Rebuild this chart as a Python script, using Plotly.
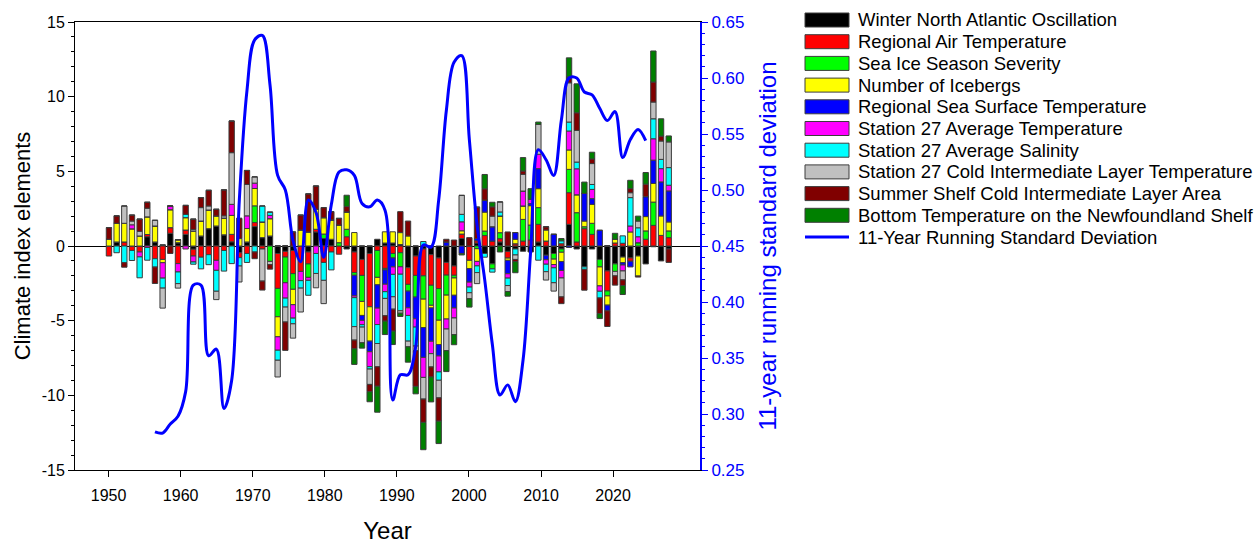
import plotly.graph_objects as go

years = list(range(1950, 2024))

nao = [0, 0.27, 0, 0, 0, 0.62, 0.27, 0.05, 0.85, 0.22,
       0.78, -0.22, 0.67, 1.16, 1.34, 0.75, 0.28, -0.45, 0.27, 1.3,
       0.56, 0.67, -0.5, -0.36, -0.3, 0, -0.4, 0.94, 0.5, 0.45,
       0, -0.2, -0.4, -0.9, -0.5, 0.45, 0.2, 0.2, 0.1, -1.45,
       -0.67, -0.2, -0.58, -0.8, -1.1, -1.34, 0.5, 0, 0.2, -0.5,
       -1.2, 0.27, -0.36, -0.2, -0.35, -0.4, 0.27, -0.62, -0.5, -0.2,
       1.45, -0.2, -1.4, -0.2, -0.9, -1.67, -1.2, -0.74, -0.8, -0.67,
       -1.2, -0.05, -1.0, -0.2]
air_temp = [-0.67, 0, 0.27, -0.3, -0.4, 0.15, -0.85, -0.9, 0.38, -1.18,
            0.29, -0.45, -0.75, -0.58, -0.96, -0.3, 0.5, -0.33, -0.5, 0.27,
            -0.2, 0, -2.34, -0.38, -1.55, -1.7, -0.8, 0.18, -1.1, -0.4,
            -0.55, 0.62, -1.38, -1.07, -3.57, -0.3, -1.5, -0.5, -0.45, -1.12,
            -1.3, -1.8, -2.05, -2.05, -0.85, -0.62, 0.3, -0.96, 0.15, 0.7,
            0.33, 0.22, -0.45, 0.15, 0.33, 0.4, 1.18, 0.33, 0, 0.15,
            2.12, 0.27, 1.16, 0.78, 0, -1.34, 0.2, 0.18, -0.22, 0,
            0.45, 1.38, 0.71, 0.56]
sea_ice = [0, 0, 0, 0, 0, 0, 0, 0, 0, 0,
           0, 0, 0, 0, 0, 0, 0, 0, 0, 1.12,
           0, -1.03, -1.9, -1.72, -1.05, 0, -0.9, 0, 0.3, 0,
           0.22, 0.5, -0.18, -1.74, 0, -1.8, -0.1, -0.3, -0.94, -0.45,
           -1.45, -1.56, -1.34, -2.12, -1.34, -0.18, 0, 0, -0.18, 0.3,
           -0.33, 0.4, 0, 0, 1.45, 1.0, 1.12, 0, -0.38, -0.22,
           1.56, 1.96, 0.13, 0.74, -0.5, -0.33, -0.5, 0, 0, 0.22,
           0.56, 1.56, 0, 0.45]
icebergs = [0.45, 1.25, 1.25, 1.15, 0.67, 1.18, 1.07, -0.22, 1.2, 0.2,
            0.83, 1.0, 1.0, 1.25, 0.67, 1.12, 1.27, 0.5, 0.9, 1.16,
            1.05, 1.16, -1.34, 0, -1.03, 1.07, 0.94, 1.34, 1.1, 1.3,
            1.18, 1.16, 0.9, -0.94, -2.3, -0.5, 0.75, 0.75, 0.8, 0.67,
            0, -1.9, -0.18, -1.63, -1.6, -1.16, 0.22, -0.56, -0.85, 1.27,
            0, 1.12, -0.15, 0.3, 0.9, 1.3, 1.27, 0.74, -0.36, -0.62,
            1.3, 1.2, 0.38, 1.27, -1.27, -0.62, 0.25, -0.38, 0.94, -1.34,
            0.96, 1.25, 1.3, 0.6]
sst = [0, 0, 0, 0, 0, 0, 0, 0, 0, 0,
       0, 0, 0, 0, 0, 0, 0, 0, 0, 0,
       0, 0, 0, 0, 0, 0, 0, 0, 0, 0,
       0, 0, -1.38, -0.33, -0.71, -1.56, -0.96, -0.6, 0, -1.12,
       -1.45, -2.0, -2.23, -0.76, 0.27, -0.85, -0.5, -0.9, 0.15, 0.8,
       0.96, 0, -0.9, 0.45, 0, 0.14, 1.34, -0.3, 0.78, -0.6,
       -0.1, 0, 1.85, 0.38, 1.05, -0.38, 0, -0.15, -0.38, 0,
       1.34, 1.56, 2.28, 2.08]
s27_temp = [0, 0, 0, 0.27, -0.33, -0.1, 0, -1.03, 0.25, -0.56,
            -0.2, -0.4, 0, 0, -0.67, 0, 0.74, 0, 0.85, 0.36,
            0, 0.22, -0.9, -1.03, -0.9, -0.62, -0.2, -0.5, 0, 0,
            0, 0, -0.12, -0.29, -1.0, -1.1, -0.5, -0.5, -0.5, -0.51,
            -0.56, -1.34, -0.83, -1.07, -0.67, -0.67, 0.6, -0.33, -0.3, 0,
            0, 0, -0.29, 0, 1.0, 0.3, 0.96, -0.3, -0.22, -0.5,
            1.27, 1.74, 0, 0.62, -0.36, 0, 0, -0.4, 0.4, 0.4,
            0, 1.43, 0.89, 0.38]
s27_sal = [0, -0.45, -1.12, -0.67, -1.4, -0.85, -0.56, -0.67, 0, -0.78,
           0.22, -0.15, -0.78, -0.67, -1.4, -1.38, -1.18, -0.56, -0.6, -0.4,
           1.07, 0.22, -0.67, -0.6, -0.38, -0.5, -1.0, -1.34, -1.2, -1.2,
           0, 0, -1.94, -0.16, -0.16, -1.27, -0.45, -1.5, -2.45, -1.72,
           -1.27, 0.3, 0, -0.56, 0, 0, 0.5, -0.38, -0.45, -0.25,
           -0.22, 0.27, -0.5, -0.4, 0, 0, -0.95, -0.5, -1.0, 0.2,
           0.6, 0.45, -0.16, 0.33, -0.45, 0, 0, 0.5, 1.9, 0.6,
           0, 1.34, 0.62, 1.18]
cil_temp = [0, 0, 1.16, 0.25, 0.3, 0.58, 0.38, -1.34, 0, -0.3,
            0, 0.1, 0.9, 0.27, -0.56, 0.15, 3.46, -1.07, 2.1, 0.42,
            -2.15, -0.22, -1.12, -1.0, -0.96, -1.6, 0, -0.96, -1.56, 0,
            0, 0, -0.9, -1.05, -1.03, -1.56, -1.16, -0.83, -0.16, -0.38,
            -0.3, -1.45, -0.89, -1.18, -1.45, -1.12, 1.27, -0.4, -0.74, 0,
            0.71, 0.67, -0.4, -0.3, 1.12, 0, 2.0, -0.56, -0.56, -1.27,
            2.63, 2.12, 0, 1.4, 0, 0, -0.3, -0.6, 0.33, 0.45,
            0, 1.12, 1.23, 1.72]
cil_area = [0.78, 0.5, -0.3, 0.4, 0.83, 0.4, -1.1, 0, -0.5, 0,
            0.6, 0.7, 0.67, 1.05, 0.45, 1.74, 2.12, 1.35, 0.94, -0.45,
            -0.6, -0.3, 0, -1.9, 0.94, 1.0, 2.55, 1.56, 0.67, 0.55,
            0.45, 0.36, -0.58, 0, -0.49, -1.3, -0.36, -1.47, 1.4, 1.0,
            -2.4, -1.56, -0.67, -1.56, 0.18, 0.4, 0, 0.56, 2.1, 0.76,
            0.62, 0, 0.94, -0.15, 0.22, 0, 0, 0.22, 0, -0.45,
            0.4, 1.18, -1.4, 0.31, -1.05, -1.05, -0.62, -0.38, 0.27, -0.07,
            0.83, 1.34, 0.33, -0.9]
bottom_temp = [0, 0, 0, 0, 0, 0, 0, 0, 0, 0,
               0, 0, 0, 0, 0, 0, 0, 0, 0, 0,
               0, 0, 0, 0, 0, 0, 0, 0, 0, 0,
               0, 0.76, -1.05, -0.36, -0.67, -1.74, -0.9, -0.9, -0.22, -1.03,
               -0.5, -1.83, -1.67, -1.5, -1.4, -0.67, -0.1, -0.56, 0, 0.96,
               0.31, -0.4, -0.31, -0.74, 0.9, 0.7, 0.16, 0, 0, 0.15,
               1.27, 1.94, 0.76, 0.45, -0.33, 0, 0.4, -0.6, 0.56, 0.33,
               0.78, 2.08, 1.16, 0.4]

sd_years = list(range(1956, 2021))
running_sd = [0.284, 0.283, 0.291, 0.298, 0.32, 0.415, 0.415, 0.352, 0.358, 0.305,
              0.33, 0.491, 0.589, 0.634, 0.638, 0.594, 0.513, 0.5, 0.455, 0.436,
              0.491, 0.48, 0.44, 0.487, 0.516, 0.518, 0.513, 0.488, 0.485, 0.491,
              0.482, 0.3125, 0.335, 0.335, 0.36, 0.451, 0.449, 0.491, 0.571, 0.614,
              0.62, 0.545, 0.469, 0.42, 0.362, 0.317, 0.326, 0.311, 0.348, 0.446,
              0.536, 0.527, 0.513, 0.5625, 0.6, 0.6, 0.5875, 0.585, 0.573, 0.562,
              0.57, 0.529, 0.545, 0.554, 0.544]

x_tick_labels = ["1950", "1960", "1970", "1980", "1990", "2000", "2010", "2020"]
left_tick_labels = ["-15", "-10", "-5", "0", "5", "10", "15"]

series_names = ["Winter North Atlantic Oscillation", "Regional Air Temperature",
                "Sea Ice Season Severity", "Number of Icebergs",
                "Regional Sea Surface Temperature", "Station 27 Average Temperature",
                "Station 27 Average Salinity", "Station 27 Cold Intermediate Layer Temperature",
                "Summer Shelf Cold Intermediate Layer Area", "Bottom Temperature on the Newfoundland Shelf"]
line_name = "11-Year Running Standard Deviation"
series_values = [nao, air_temp, sea_ice, icebergs, sst, s27_temp, s27_sal, cil_temp, cil_area, bottom_temp]
series_colors = ["#000000", "#FF0000", "#00FF00", "#FFFF00", "#0000FF",
                 "#FF00FF", "#00FFFF", "#C0C0C0", "#800000", "#008000"]
line_color = "#0000FF"
outline = "#3c3c3c"

FONT = "Arial, Liberation Sans, sans-serif"
W, H = 1259, 544
PL, PR, PT, PB = 75, 700, 22, 470  # plot area in pixels


def px_x(px):
    return (px - PL) / (PR - PL)


def px_y(py):
    return (PB - py) / (PB - PT)


fig = go.Figure()
for name, vals, col in zip(series_names, series_values, series_colors):
    fig.add_trace(go.Bar(x=years, y=vals, name=name, showlegend=False,
                         marker=dict(color=col, line=dict(color=outline, width=1))))
fig.add_trace(go.Scatter(x=sd_years, y=running_sd, name=line_name, showlegend=False,
                         mode="lines", yaxis="y2",
                         line=dict(color=line_color, width=3, shape="spline", smoothing=1)))

# legend drawn as shapes + text (wide swatches as in the original)
shapes = []
annotations = []
legend_entries = list(zip(series_names, series_colors)) + [(line_name, None)]
for i, (name, col) in enumerate(legend_entries):
    cy = 20 + 21.7 * i
    if col is not None:
        shapes.append(dict(type="rect", xref="paper", yref="paper",
                           x0=px_x(805), x1=px_x(849), y0=px_y(cy + 7), y1=px_y(cy - 7),
                           fillcolor=col, line=dict(color=outline, width=1)))
    else:
        shapes.append(dict(type="line", xref="paper", yref="paper",
                           x0=px_x(805), x1=px_x(849), y0=px_y(cy), y1=px_y(cy),
                           line=dict(color=line_color, width=3)))
    annotations.append(dict(text=name, xref="paper", yref="paper",
                            x=px_x(856), y=px_y(cy), xanchor="left", yanchor="middle",
                            showarrow=False, font=dict(size=18.5, family=FONT, color="black")))

# tick label positions as they appear on the original axis
x_tick_pos = [1949.95 + (int(t) - 1950) * 0.94 for t in x_tick_labels]

fig.update_layout(
    width=W, height=H,
    margin=dict(l=PL, r=W - PR, t=PT, b=H - PB),
    barmode="relative", bargap=0.3,
    plot_bgcolor="white", paper_bgcolor="white",
    font=dict(family=FONT, size=16, color="black"),
    showlegend=False,
    shapes=shapes, annotations=annotations,
    xaxis=dict(range=[1945.57, 2027.08], tickvals=x_tick_pos, ticktext=x_tick_labels,
               automargin=False,
               showline=True, linecolor="black", linewidth=1, mirror=True,
               ticks="outside", ticklen=6, tickcolor="black", ticklabelstandoff=5,
               showgrid=False, zeroline=False,
               tickfont=dict(size=16),
               title=dict(text="Year", font=dict(size=24), standoff=22)),
    yaxis=dict(range=[-15, 15], tickvals=[int(t) for t in left_tick_labels], ticktext=left_tick_labels,
               automargin=False,
               showline=True, linecolor="black", linewidth=1,
               ticks="outside", ticklen=6, tickcolor="black",
               minor=dict(dtick=1, ticks="outside", ticklen=3, tickcolor="black"),
               showgrid=False, zeroline=True, zerolinecolor="black", zerolinewidth=1,
               tickfont=dict(size=16),
               title=dict(text="Climate index elements", font=dict(size=22), standoff=4)),
    yaxis2=dict(range=[0.25, 0.65], dtick=0.05, tickformat=".2f", overlaying="y", side="right",
                automargin=False,
                showline=True, linecolor=line_color, linewidth=2,
                ticks="outside", ticklen=6, tickcolor=line_color,
                minor=dict(dtick=0.01, ticks="outside", ticklen=3, tickcolor=line_color),
                showgrid=False, zeroline=False,
                tickfont=dict(size=17, color=line_color),
                title=dict(text="11-year running standard deviation",
                           font=dict(size=24, color=line_color), standoff=16)),
)

fig.write_html("out.html")
